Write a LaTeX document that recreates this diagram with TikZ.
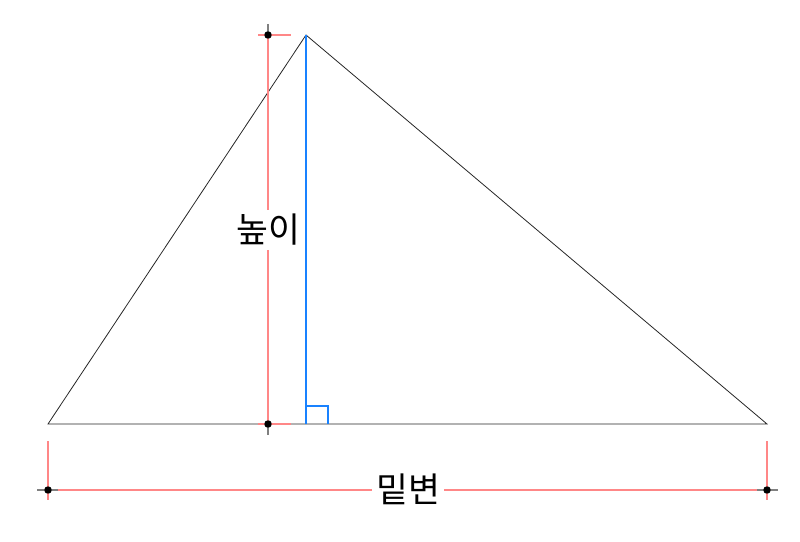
\documentclass[tikz,border=0pt]{standalone}
\usepackage{fontspec}
\newfontfamily\kofont{Noto Sans CJK KR}
\usetikzlibrary{positioning,calc}
\definecolor{hblue}{RGB}{25,130,255}
\definecolor{dimred}{RGB}{255,135,135}
\tikzset{
  edge/.style={draw=black!85, line width=0.6pt},
  altitude/.style={draw=hblue, line width=1.4pt},
  dim/.style={draw=dimred, line width=1.4pt},
  stub/.style={draw=gray, line width=1.2pt},
  pin/.style={circle, fill=black, inner sep=0pt, minimum size=5.5pt},
  lab/.style={font=\kofont\fontsize{26}{30}\selectfont, fill=white, inner sep=3pt},
}

\begin{document}
\begin{tikzpicture}[x=0.75pt,y=-0.75pt]
\useasboundingbox (0,0) rectangle (800,542);
% triangle and altitude
\coordinate (A) at (48,424);
\coordinate (B) at (767,424);
\coordinate (C) at (306,35);
\coordinate (F) at (306,424);
\draw[edge] (A) -- (B) -- (C) -- cycle;
\draw[altitude] (C) -- (F);
\draw[altitude] (F) |- ++(22,-18) -- ++(0,18);
% height dimension
\node[pin] (h1) at (268,35) {};
\node[pin] (h2) at (268,424) {};
\draw[dim] (h1.center) -- (h2.center);
\draw[dim] ($(h1)+(-10,0)$) -- ($(h1)+(23,0)$);
\draw[dim] ($(h2)+(-10,0)$) -- ($(h2)+(23,0)$);
\draw[stub] ($(h1)+(0,-11)$) -- ($(h1)+(0,3)$);
\draw[stub] ($(h2)+(0,-3)$) -- ($(h2)+(0,11)$);
\node[pin] at (h1) {};
\node[pin] at (h2) {};
\node[lab] (hlab) at (268,230) {높이};
% base dimension
\node[pin] (b1) at (48,490) {};
\node[pin] (b2) at (767,490) {};
\draw[dim] ($(b1)+(0,-49)$) -- ($(b1)+(0,10)$);
\draw[dim] ($(b2)+(0,-49)$) -- ($(b2)+(0,10)$);
\draw[dim] (b1.center) -- (b2.center);
\draw[stub] ($(b1)+(-11,0)$) -- ($(b1)+(10,0)$);
\draw[stub] ($(b2)+(-10,0)$) -- ($(b2)+(11,0)$);
\node[pin] at (b1) {};
\node[pin] at (b2) {};
\node[lab] (blab) at (408,489) {밑변};
\end{tikzpicture}
\end{document}
